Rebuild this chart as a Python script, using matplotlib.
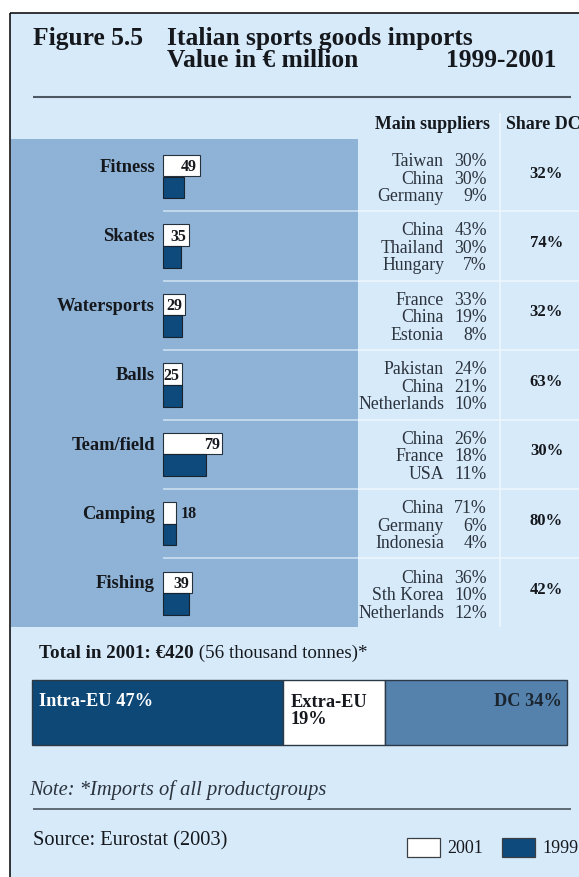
import numpy as np
import matplotlib
matplotlib.use("Agg")
import matplotlib.pyplot as plt
from matplotlib import transforms
from matplotlib.patches import Rectangle

# ---------------- data ----------------
categories = ["Fitness", "Skates", "Watersports", "Balls", "Team/field", "Camping", "Fishing"]
imports_2001 = [49, 35, 29, 25, 79, 18, 39]
imports_1999 = [28, 24, 25, 25, 57, 17, 35]

supplier_names = [
    ["Taiwan", "China", "Germany"],
    ["China", "Thailand", "Hungary"],
    ["France", "China", "Estonia"],
    ["Pakistan", "China", "Netherlands"],
    ["China", "France", "USA"],
    ["China", "Germany", "Indonesia"],
    ["China", "Sth Korea", "Netherlands"],
]
supplier_shares = [
    ["30%", "30%", "9%"],
    ["43%", "30%", "7%"],
    ["33%", "19%", "8%"],
    ["24%", "21%", "10%"],
    ["26%", "18%", "11%"],
    ["71%", "6%", "4%"],
    ["36%", "10%", "12%"],
]
share_dc = ["32%", "74%", "32%", "63%", "30%", "80%", "42%"]

origin_groups = ["Intra-EU", "Extra-EU", "DC"]
origin_shares = [47, 19, 34]
legend_years = ["2001", "1999"]

# ---------------- style ----------------
W, H = 579, 877
SERIF = "Liberation Serif"
BG = "#d7eafa"
PANEL = "#8fb3d6"
NAVY = "#0e4a7b"
STEEL = "#5582ad"
INK = "#15181d"
GREY_INK = "#2b333d"
EDGE = "#25313d"

plt.rcParams["font.family"] = [SERIF, "DejaVu Serif"]

fig = plt.figure(figsize=(W / 100, H / 100), dpi=100)
fig.patch.set_facecolor("white")


def fig_rect(x0, y0, x1, y1):
    """Axes rectangle from pixel edges measured from the top-left corner."""
    return [x0 / W, 1 - y1 / H, (x1 - x0) / W, (y1 - y0) / H]


# full-page layer in pixel coordinates (y grows downwards)
page = fig.add_axes([0, 0, 1, 1])
page.set_xlim(0, W)
page.set_ylim(H, 0)
page.axis("off")
page.set_zorder(0)

page.add_patch(Rectangle((10, 12.5), W, H, facecolor=BG, edgecolor="none"))
page.plot([10, 10], [12.5, H], color="black", lw=1.1, solid_capstyle="butt")
page.plot([10, W], [12.5, 12.5], color="black", lw=1.1, solid_capstyle="butt")

# title block
page.text(33, 45, "Figure 5.5", fontsize=18.4, fontweight="bold", color=INK, va="baseline")
page.text(167, 45, "Italian sports goods imports", fontsize=18.4, fontweight="bold",
          color=INK, va="baseline")
page.text(167, 67, "Value in \u20ac million", fontsize=18.4, fontweight="bold",
          color=INK, va="baseline")
page.text(556, 67, "1999-2001", fontsize=18.4, fontweight="bold", color=INK,
          va="baseline", ha="right")
page.plot([33, 571], [97, 97], color="#4d5864", lw=1.5, solid_capstyle="butt")

# column headers
page.text(432.5, 124.5, "Main suppliers", fontsize=12.9, fontweight="bold", color=INK,
          ha="center", va="center")
page.text(506, 124.5, "Share DC", fontsize=12.9, fontweight="bold", color=INK,
          ha="left", va="center")

# ---------------- bar panel ----------------
PANEL_L, PANEL_R, PANEL_T, PANEL_B = 11, 358, 139, 627
BAR_X0 = 163          # pixel where the value axis starts
PX_PER_UNIT = 0.75    # pixels per EUR million
ROW0, ROW_PITCH = 176.5, 69.45


def px(p):
    """Pixel distance expressed in value units."""
    return p / PX_PER_UNIT


ax = fig.add_axes(fig_rect(PANEL_L, PANEL_T, PANEL_R, PANEL_B), facecolor=PANEL)
ax.set_zorder(1)
ax.set_xlim(-px(BAR_X0 - PANEL_L), px(PANEL_R - BAR_X0))
ax.set_ylim((PANEL_B - ROW0) / ROW_PITCH, (PANEL_T - ROW0) / ROW_PITCH)
ax.set_xticks([])
ax.set_yticks([])
for s in ax.spines.values():
    s.set_visible(False)

rows = np.arange(len(categories))
bar_h = 21.7 / ROW_PITCH
ax.barh(rows - bar_h / 2, imports_2001, height=bar_h, color="white",
        edgecolor=EDGE, linewidth=0.8, zorder=3)
ax.barh(rows + bar_h / 2, imports_1999, height=bar_h, color=NAVY,
        edgecolor="#17232f", linewidth=0.8, zorder=3)

lift = 1.6 / ROW_PITCH  # small optical correction for text centring
for i, (name, v) in enumerate(zip(categories, imports_2001)):
    ax.text(-px(8), i - bar_h / 2 + lift, name, ha="right", va="center",
            fontsize=13.3, fontweight="bold", color=INK)
    if v * PX_PER_UNIT > 15:
        ax.text(v - px(2.5), i - bar_h / 2 + lift, str(v), ha="right", va="center",
                fontsize=11.5, fontweight="bold", color=INK, zorder=4)
    else:
        ax.text(v + px(4), i - bar_h / 2 + lift, str(v), ha="left", va="center",
                fontsize=11.5, fontweight="bold", color=INK, zorder=4)

# row separators inside the panel
xmax = ax.get_xlim()[1]
for k in range(len(categories) - 1):
    ax.plot([0, xmax], [k + 0.5, k + 0.5], color="#cfe2f3", lw=1.1, zorder=2,
            solid_capstyle="butt")

# ---------------- supplier table (x in page pixels, y in panel rows) ----------------
row_tr = transforms.blended_transform_factory(page.transData, ax.transData)


def row_offset(dy):
    return transforms.offset_copy(row_tr, fig=fig, x=0, y=-dy, units="dots")


for k in range(len(categories) - 1):
    page.plot([PANEL_R, W], [k + 0.5, k + 0.5], transform=row_tr, color="#eef6fd",
              lw=1.1, solid_capstyle="butt")
page.plot([500, 500], [113, PANEL_B], color="#eef6fd", lw=1.1, solid_capstyle="butt")

line_dy = [-15.0, 2.5, 20.0]
for i in range(len(categories)):
    for j in range(3):
        tr = row_offset(line_dy[j])
        page.text(444, i, supplier_names[i][j], transform=tr, ha="right", va="center",
                  fontsize=12.8, color=GREY_INK)
        page.text(487, i, supplier_shares[i][j], transform=tr, ha="right", va="center",
                  fontsize=12.8, color=GREY_INK)
    page.text(546.5, i, share_dc[i], transform=row_offset(-3.0), ha="center",
              va="center", fontsize=12, fontweight="bold", color=INK)

# ---------------- total line ----------------
t_bold = page.text(39, 658, "Total in 2001: \u20ac420", fontsize=13.7, fontweight="bold",
                   color=INK, va="baseline")
renderer = fig.canvas.get_renderer()
bb = t_bold.get_window_extent(renderer=renderer)
x_end = page.transData.inverted().transform((bb.x1, bb.y0))[0]
page.text(x_end, 658, " (56 thousand tonnes)*", fontsize=13.7, color=INK, va="baseline")

# ---------------- origin split bar ----------------
ax2 = fig.add_axes(fig_rect(32, 680, 567, 745))
ax2.set_zorder(1)
ax2.set_xlim(0, 100)
ax2.set_ylim(-0.5, 0.5)
ax2.axis("off")
seg_colors = ["#0d4877", "white", STEEL]
lefts = np.concatenate([[0], np.cumsum(origin_shares)[:-1]])
bars = ax2.barh([0] * len(origin_shares), origin_shares, left=lefts, height=1,
                color=seg_colors, edgecolor="#2c3a48", linewidth=1.0)
for b in bars:
    b.set_clip_on(False)

lab_tr = transforms.blended_transform_factory(ax2.transData, ax2.transAxes)
ax2.text(lefts[0], 0.675, f"{origin_groups[0]} {origin_shares[0]}%",
         transform=transforms.offset_copy(lab_tr, fig=fig, x=7, units="dots"),
         ha="left", va="center", fontsize=13.2, fontweight="bold", color="white")
ax2.text(lefts[1], 0.53, f"{origin_groups[1]}\n{origin_shares[1]}%",
         transform=transforms.offset_copy(lab_tr, fig=fig, x=7, units="dots"),
         ha="left", va="center", fontsize=13.2, fontweight="bold", color=INK,
         linespacing=1.0)
ax2.text(100, 0.675, f"{origin_groups[2]} {origin_shares[2]}%",
         transform=transforms.offset_copy(lab_tr, fig=fig, x=-5, units="dots"),
         ha="right", va="center", fontsize=13.2, fontweight="bold", color="#1b2530")

# ---------------- note, source, legend ----------------
page.text(29, 795, "Note: *Imports of all productgroups", fontsize=14.8, style="italic",
          color=GREY_INK, va="baseline")
page.plot([33, 571], [809, 809], color="#3d4650", lw=1.1, solid_capstyle="butt")
page.text(33, 845, "Source: Eurostat (2003)", fontsize=14.7, color=INK, va="baseline")

legend_colors = ["white", NAVY]
legend_x = [407, 502]
for x0, c, yr in zip(legend_x, legend_colors, legend_years):
    page.add_patch(Rectangle((x0, 838), 33, 19, facecolor=c, edgecolor="#3a3f45", lw=0.9))
    page.text(x0 + 40, 848.5, yr, fontsize=13, color=INK, va="center")

fig.savefig("out.png", dpi=100, facecolor=fig.get_facecolor())
